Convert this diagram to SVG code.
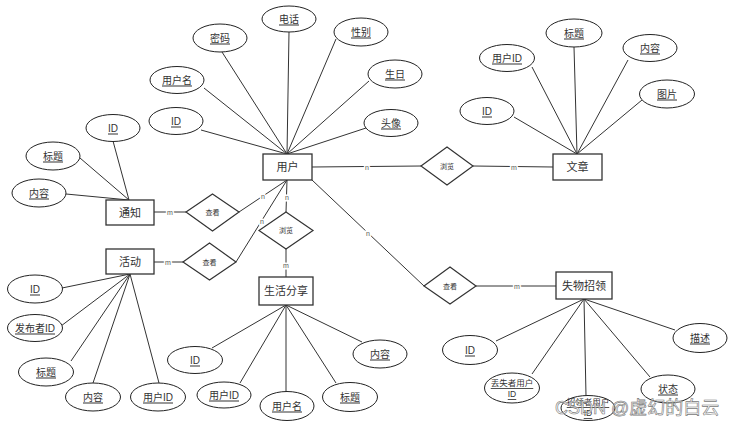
<svg xmlns="http://www.w3.org/2000/svg" width="739" height="428" viewBox="0 0 739 428">
<style>
text{font-family:"Liberation Sans","Noto Sans CJK SC",sans-serif;fill:#333;text-anchor:middle;dominant-baseline:central}
.ent rect{fill:#fff;stroke:#333;stroke-width:1.3}
.ent text{font-size:11px}
.attr ellipse{fill:#fff;stroke:#222;stroke-width:1}
.attr text{font-size:10px;text-decoration:underline}
.attr text.sm{font-size:8.5px}
.rel polygon{fill:#fff;stroke:#333;stroke-width:1.2}
.rel text{font-size:7px}
#connectors line{stroke:#333;stroke-width:1}
.card{font-size:7px;fill:#555;stroke:#fff;stroke-width:3;paint-order:stroke}
.wm{font-size:18px;fill:#fff;fill-opacity:0.6;stroke:#777;stroke-width:0.6;text-anchor:start}
</style>
<rect width="739" height="428" fill="#fff"/>
<g id="connectors">
<line x1="289" y1="32" x2="287" y2="154"/>
<line x1="222" y1="52" x2="287" y2="154"/>
<line x1="336" y1="39" x2="287" y2="154"/>
<line x1="204" y1="88" x2="287" y2="154"/>
<line x1="369" y1="81" x2="287" y2="154"/>
<line x1="201" y1="130" x2="287" y2="154"/>
<line x1="366" y1="128" x2="287" y2="154"/>
<line x1="574" y1="47" x2="577" y2="154"/>
<line x1="532" y1="67" x2="577" y2="154"/>
<line x1="628" y1="60" x2="577" y2="154"/>
<line x1="642" y1="100" x2="577" y2="154"/>
<line x1="514" y1="117" x2="577" y2="154"/>
<line x1="113" y1="141" x2="129" y2="200"/>
<line x1="80" y1="158" x2="129" y2="200"/>
<line x1="66" y1="194" x2="129" y2="200"/>
<line x1="62" y1="288" x2="130" y2="274"/>
<line x1="61" y1="326" x2="130" y2="274"/>
<line x1="71" y1="361" x2="130" y2="274"/>
<line x1="93" y1="383" x2="130" y2="274"/>
<line x1="159" y1="383" x2="130" y2="274"/>
<line x1="212" y1="348" x2="286" y2="305"/>
<line x1="240" y1="383" x2="286" y2="305"/>
<line x1="286" y1="392" x2="286" y2="305"/>
<line x1="336" y1="383" x2="286" y2="305"/>
<line x1="362" y1="342" x2="286" y2="305"/>
<line x1="496" y1="341" x2="584" y2="299"/>
<line x1="532" y1="374" x2="584" y2="299"/>
<line x1="586" y1="396" x2="584" y2="299"/>
<line x1="650" y1="377" x2="584" y2="299"/>
<line x1="675" y1="330" x2="584" y2="299"/>
<line x1="312" y1="167" x2="421" y2="166"/>
<line x1="473" y1="166" x2="553" y2="167"/>
<line x1="287" y1="180" x2="286" y2="212"/>
<line x1="286" y1="249" x2="286" y2="277"/>
<line x1="287" y1="180" x2="239" y2="212"/>
<line x1="186" y1="212" x2="154" y2="212"/>
<line x1="287" y1="180" x2="236" y2="262"/>
<line x1="183" y1="262" x2="154" y2="262"/>
<line x1="312" y1="180" x2="424" y2="286"/>
<line x1="476" y1="286" x2="556" y2="286"/>
<text class="card" x="367" y="167">n</text>
<text class="card" x="514" y="167">m</text>
<text class="card" x="287" y="197">n</text>
<text class="card" x="286" y="265">m</text>
<text class="card" x="263" y="196">n</text>
<text class="card" x="170" y="212">m</text>
<text class="card" x="262" y="221">n</text>
<text class="card" x="168" y="262">m</text>
<text class="card" x="368" y="233">n</text>
<text class="card" x="517" y="286">m</text>
</g>
<g id="user" class="ent"><rect x="263" y="154" width="49" height="26"/><text x="287.5" y="167">用户</text></g>
<g id="article" class="ent"><rect x="553" y="154" width="49" height="26"/><text x="577.5" y="167">文章</text></g>
<g id="notice" class="ent"><rect x="106" y="200" width="48" height="25"/><text x="130" y="212.5">通知</text></g>
<g id="activity" class="ent"><rect x="106" y="249" width="48" height="25"/><text x="130" y="261.5">活动</text></g>
<g id="lifeshare" class="ent"><rect x="259" y="277" width="54" height="28"/><text x="286" y="291">生活分享</text></g>
<g id="lostfound" class="ent"><rect x="556" y="272" width="56" height="27"/><text x="584" y="285.5">失物招领</text></g>
<g id="rel-view-notice" class="rel"><polygon points="212.5,194 239,212 212.5,231 186,212"/><text x="212.5" y="212.5">查看</text></g>
<g id="rel-view-activity" class="rel"><polygon points="209.5,243 236,262 209.5,280 183,262"/><text x="209.5" y="262">查看</text></g>
<g id="rel-browse-life" class="rel"><polygon points="286,212 313,230.5 286,249 259,230.5"/><text x="286" y="230.5">浏览</text></g>
<g id="rel-browse-article" class="rel"><polygon points="447,147 473,166 447,185 421,166"/><text x="447" y="166">浏览</text></g>
<g id="rel-view-lost" class="rel"><polygon points="450,267 476,286 450,304 424,286"/><text x="450" y="286">查看</text></g>
<g id="attr-user-phone" class="attr"><ellipse cx="289" cy="19" rx="27" ry="13"/><text x="289" y="19">电话</text></g>
<g id="attr-user-pwd" class="attr"><ellipse cx="220" cy="38" rx="27" ry="14"/><text x="220" y="38">密码</text></g>
<g id="attr-user-gender" class="attr"><ellipse cx="361" cy="32" rx="27" ry="14"/><text x="361" y="32">性别</text></g>
<g id="attr-user-name" class="attr"><ellipse cx="177" cy="80" rx="27" ry="13.5"/><text x="177" y="80">用户名</text></g>
<g id="attr-user-birth" class="attr"><ellipse cx="395" cy="74" rx="27" ry="14"/><text x="395" y="74">生日</text></g>
<g id="attr-user-id" class="attr"><ellipse cx="176" cy="121" rx="27" ry="13.5"/><text x="176" y="121">ID</text></g>
<g id="attr-user-avatar" class="attr"><ellipse cx="391" cy="123" rx="27" ry="13.5"/><text x="391" y="123">头像</text></g>
<g id="attr-art-title" class="attr"><ellipse cx="574" cy="33" rx="28" ry="14"/><text x="574" y="33">标题</text></g>
<g id="attr-art-uid" class="attr"><ellipse cx="507" cy="58" rx="27.5" ry="13.5"/><text x="507" y="58">用户ID</text></g>
<g id="attr-art-content" class="attr"><ellipse cx="650" cy="48" rx="27" ry="13.5"/><text x="650" y="48">内容</text></g>
<g id="attr-art-pic" class="attr"><ellipse cx="667" cy="94" rx="27.5" ry="14"/><text x="667" y="94">图片</text></g>
<g id="attr-art-id" class="attr"><ellipse cx="487" cy="111" rx="27" ry="13.5"/><text x="487" y="111">ID</text></g>
<g id="attr-notice-id" class="attr"><ellipse cx="113" cy="128" rx="27" ry="13.5"/><text x="113" y="128">ID</text></g>
<g id="attr-notice-title" class="attr"><ellipse cx="53" cy="156" rx="27" ry="14"/><text x="53" y="156">标题</text></g>
<g id="attr-notice-content" class="attr"><ellipse cx="39" cy="193" rx="27" ry="14"/><text x="39" y="193">内容</text></g>
<g id="attr-act-id" class="attr"><ellipse cx="35" cy="289" rx="27.5" ry="14"/><text x="35" y="289">ID</text></g>
<g id="attr-act-pub" class="attr"><ellipse cx="35" cy="328" rx="27.5" ry="13.5"/><text x="35" y="328">发布者ID</text></g>
<g id="attr-act-title" class="attr"><ellipse cx="46" cy="372" rx="27.5" ry="14"/><text x="46" y="372">标题</text></g>
<g id="attr-act-content" class="attr"><ellipse cx="93" cy="397" rx="27.5" ry="14"/><text x="93" y="397">内容</text></g>
<g id="attr-act-uid" class="attr"><ellipse cx="158" cy="397" rx="27.5" ry="14"/><text x="158" y="397">用户ID</text></g>
<g id="attr-life-id" class="attr"><ellipse cx="195" cy="360" rx="27.5" ry="13.5"/><text x="195" y="360">ID</text></g>
<g id="attr-life-uid" class="attr"><ellipse cx="224" cy="395" rx="27" ry="13"/><text x="224" y="395">用户ID</text></g>
<g id="attr-life-name" class="attr"><ellipse cx="287" cy="406" rx="27" ry="14.5"/><text x="287" y="406">用户名</text></g>
<g id="attr-life-title" class="attr"><ellipse cx="350" cy="397" rx="27.5" ry="14.5"/><text x="350" y="397">标题</text></g>
<g id="attr-life-content" class="attr"><ellipse cx="380" cy="354" rx="27" ry="14"/><text x="380" y="354">内容</text></g>
<g id="attr-lost-id" class="attr"><ellipse cx="470" cy="350" rx="27.5" ry="14.5"/><text x="470" y="350">ID</text></g>
<g id="attr-lost-loser" class="attr"><ellipse cx="512" cy="388" rx="27.5" ry="15"/><text class="sm" x="512" y="383">丢失者用户</text><text class="sm" x="512" y="394">ID</text></g>
<g id="attr-lost-finder" class="attr"><ellipse cx="588" cy="408" rx="27" ry="12.5"/><text class="sm" x="588" y="402">招领者用户</text><text class="sm" x="588" y="413">ID</text></g>
<g id="attr-lost-status" class="attr"><ellipse cx="668" cy="389" rx="27" ry="14"/><text x="668" y="389">状态</text></g>
<g id="attr-lost-desc" class="attr"><ellipse cx="700" cy="338" rx="27" ry="14.5"/><text x="700" y="338">描述</text></g>
<text class="wm" x="555" y="408">CSDN @虚幻的白云</text>
</svg>
